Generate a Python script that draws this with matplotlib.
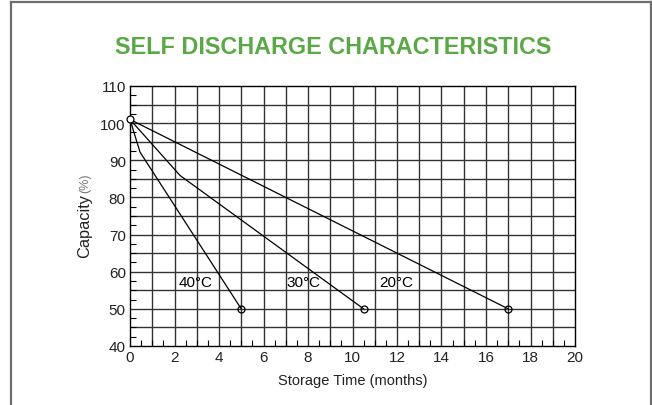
import matplotlib
matplotlib.use("Agg")
import matplotlib.pyplot as plt
from matplotlib.lines import Line2D
from matplotlib.ticker import MultipleLocator

plt.rcParams['font.family'] = ['Liberation Sans', 'DejaVu Sans']

title = "SELF DISCHARGE CHARACTERISTICS"
x_label = "Storage Time (months)"
y_label = "Capacity"
y_unit = "(%)"

# series: (months, capacity %)
t40_x = [0, 0.45, 5.0]
t40_y = [101, 92.2, 50]
t30_x = [0, 2.25, 10.5]
t30_y = [101, 85.9, 50]
t20_x = [0, 17.0]
t20_y = [101, 50]
labels = ["40°C", "30°C", "20°C"]
label_pos = [(2.2, 57.1), (7.05, 57.1), (11.2, 57.1)]

x_ticks = list(range(0, 21, 2))
y_ticks = list(range(40, 111, 10))

fig = plt.figure(figsize=(6.52, 4.06), dpi=100)
W, H = 652, 406
ax = fig.add_axes([130 / W, 1 - 347 / H, 445 / W, 260 / H])

series = [(t40_x, t40_y), (t30_x, t30_y), (t20_x, t20_y)]
for xs, ys in series:
    ax.plot(xs, ys, color='black', lw=0.9, zorder=3)
    ax.plot([xs[-1]], [ys[-1]], marker='o', ms=5, mfc='none', mec='black', mew=0.9, zorder=4)
ax.plot([0], [101], marker='o', ms=5, mfc='white', mec='black', mew=0.9, zorder=5, clip_on=False)

for lab, (lx, ly) in zip(labels, label_pos):
    ax.text(lx, ly, lab, fontsize=11, ha='left', va='center', zorder=4)

ax.set_xlim(0, 20)
ax.set_ylim(40, 110)
ax.set_xticks(x_ticks)
ax.set_yticks(y_ticks)
ax.xaxis.set_minor_locator(MultipleLocator(0.5))
ax.yaxis.set_minor_locator(MultipleLocator(2.5))
ax.tick_params(which='major', length=0, labelsize=11, pad=3, colors='#222222')
ax.tick_params(which='minor', direction='in', length=4, width=0.8)
for v in range(1, 20):
    ax.axvline(v, color='#333333', lw=1.0, zorder=1)
for v in range(45, 110, 5):
    ax.axhline(v, color='#333333', lw=1.0, zorder=1)
for s in ax.spines.values():
    s.set_linewidth(1.0)
    s.set_color('black')

ax.set_xlabel(x_label, fontsize=10.5, color='#222222')
ax.xaxis.set_label_coords(0.5, (347 - 381) / 260, transform=ax.transAxes)
ax.xaxis.label.set_va('center')

fig.text(85 / W, 1 - 194 / H, y_label, rotation=90, ha='center', va='top',
         fontsize=11.8, color='#222222')
fig.text(85 / W, 1 - 193 / H, y_unit, rotation=90, ha='center', va='bottom',
         fontsize=9, color='#777777')

fig.text(333 / W, 1 - 47 / H, title, ha='center', va='center',
         fontsize=16.8, fontweight='bold', color='#5BA846')

# outer border (gray, open at bottom)
c = '#6e6e6e'
fig.add_artist(Line2D([11 / W, 11 / W], [0, 1 - 3 / H], color=c, lw=1.6, transform=fig.transFigure))
fig.add_artist(Line2D([11 / W, 651 / W], [1 - 3 / H, 1 - 3 / H], color=c, lw=1.6, transform=fig.transFigure))
fig.add_artist(Line2D([651 / W, 651 / W], [0, 1 - 3 / H], color=c, lw=1.6, transform=fig.transFigure))

fig.savefig("out.png", dpi=100)
